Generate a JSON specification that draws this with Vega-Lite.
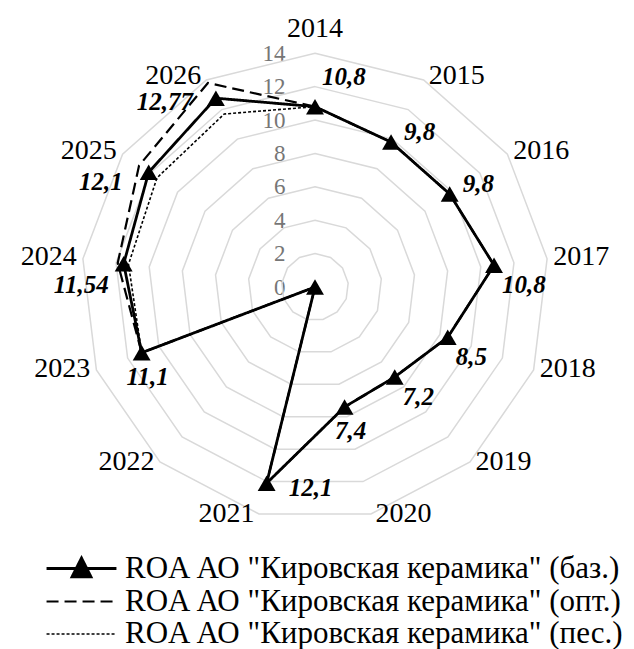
{
  "$schema": "https://vega.github.io/schema/vega-lite/v6.json",
  "width": 634,
  "height": 649,
  "autosize": {"type": "none"},
  "padding": 0,
  "config": {"view": {"stroke": null}, "font": "Liberation Serif"},
  "datasets": {
    "roa": [
      {"year": "2014", "series": "ROA АО \"Кировская керамика\" (баз.)", "value": 10.8},
      {"year": "2015", "series": "ROA АО \"Кировская керамика\" (баз.)", "value": 9.8},
      {"year": "2016", "series": "ROA АО \"Кировская керамика\" (баз.)", "value": 9.8},
      {"year": "2017", "series": "ROA АО \"Кировская керамика\" (баз.)", "value": 10.8},
      {"year": "2018", "series": "ROA АО \"Кировская керамика\" (баз.)", "value": 8.5},
      {"year": "2019", "series": "ROA АО \"Кировская керамика\" (баз.)", "value": 7.2},
      {"year": "2020", "series": "ROA АО \"Кировская керамика\" (баз.)", "value": 7.4},
      {"year": "2021", "series": "ROA АО \"Кировская керамика\" (баз.)", "value": 12.1},
      {"year": "2022", "series": "ROA АО \"Кировская керамика\" (баз.)", "value": 0},
      {"year": "2023", "series": "ROA АО \"Кировская керамика\" (баз.)", "value": 11.1},
      {"year": "2024", "series": "ROA АО \"Кировская керамика\" (баз.)", "value": 11.54},
      {"year": "2025", "series": "ROA АО \"Кировская керамика\" (баз.)", "value": 12.1},
      {"year": "2026", "series": "ROA АО \"Кировская керамика\" (баз.)", "value": 12.77},
      {"year": "2014", "series": "ROA АО \"Кировская керамика\" (опт.)", "value": 10.8},
      {"year": "2015", "series": "ROA АО \"Кировская керамика\" (опт.)", "value": 9.8},
      {"year": "2016", "series": "ROA АО \"Кировская керамика\" (опт.)", "value": 9.8},
      {"year": "2017", "series": "ROA АО \"Кировская керамика\" (опт.)", "value": 10.8},
      {"year": "2018", "series": "ROA АО \"Кировская керамика\" (опт.)", "value": 8.5},
      {"year": "2019", "series": "ROA АО \"Кировская керамика\" (опт.)", "value": 7.2},
      {"year": "2020", "series": "ROA АО \"Кировская керамика\" (опт.)", "value": 7.4},
      {"year": "2021", "series": "ROA АО \"Кировская керамика\" (опт.)", "value": 12.1},
      {"year": "2022", "series": "ROA АО \"Кировская керамика\" (опт.)", "value": 0},
      {"year": "2023", "series": "ROA АО \"Кировская керамика\" (опт.)", "value": 11.1},
      {"year": "2024", "series": "ROA АО \"Кировская керамика\" (опт.)", "value": 11.9},
      {"year": "2025", "series": "ROA АО \"Кировская керамика\" (опт.)", "value": 12.8},
      {"year": "2026", "series": "ROA АО \"Кировская керамика\" (опт.)", "value": 13.8},
      {"year": "2014", "series": "ROA АО \"Кировская керамика\" (пес.)", "value": 10.8},
      {"year": "2015", "series": "ROA АО \"Кировская керамика\" (пес.)", "value": 9.8},
      {"year": "2016", "series": "ROA АО \"Кировская керамика\" (пес.)", "value": 9.8},
      {"year": "2017", "series": "ROA АО \"Кировская керамика\" (пес.)", "value": 10.8},
      {"year": "2018", "series": "ROA АО \"Кировская керамика\" (пес.)", "value": 8.5},
      {"year": "2019", "series": "ROA АО \"Кировская керамика\" (пес.)", "value": 7.2},
      {"year": "2020", "series": "ROA АО \"Кировская керамика\" (пес.)", "value": 7.4},
      {"year": "2021", "series": "ROA АО \"Кировская керамика\" (пес.)", "value": 12.1},
      {"year": "2022", "series": "ROA АО \"Кировская керамика\" (пес.)", "value": 0},
      {"year": "2023", "series": "ROA АО \"Кировская керамика\" (пес.)", "value": 11.1},
      {"year": "2024", "series": "ROA АО \"Кировская керамика\" (пес.)", "value": 11.25},
      {"year": "2025", "series": "ROA АО \"Кировская керамика\" (пес.)", "value": 11.5},
      {"year": "2026", "series": "ROA АО \"Кировская керамика\" (пес.)", "value": 11.7}
    ],
    "grid": [
      {"level": 2, "k": [0,1,2,3,4,5,6,7,8,9,10,11,12]},
      {"level": 4, "k": [0,1,2,3,4,5,6,7,8,9,10,11,12]},
      {"level": 6, "k": [0,1,2,3,4,5,6,7,8,9,10,11,12]},
      {"level": 8, "k": [0,1,2,3,4,5,6,7,8,9,10,11,12]},
      {"level": 10, "k": [0,1,2,3,4,5,6,7,8,9,10,11,12]},
      {"level": 12, "k": [0,1,2,3,4,5,6,7,8,9,10,11,12]},
      {"level": 14, "k": [0,1,2,3,4,5,6,7,8,9,10,11,12]}
    ]
  },
  "encoding": {
    "x": {"field": "px", "type": "quantitative", "scale": {"domain": [-18.862, 19.102], "nice": false, "zero": false}, "axis": null},
    "y": {"field": "py", "type": "quantitative", "scale": {"domain": [-21.677, 17.186], "nice": false, "zero": false},
      "axis": {"values": [0, 2, 4, 6, 8, 10, 12, 14], "format": "d", "domain": false, "ticks": false, "grid": false, "title": null,
        "labelFont": "Liberation Serif", "labelFontSize": 23, "labelColor": "#767676", "labelPadding": 0, "offset": -285}}
  },
  "layer": [
    {
      "data": {"name": "grid"},
      "transform": [
        {"flatten": ["k"]},
        {"calculate": "datum.k * 2 * PI / 13", "as": "th"},
        {"calculate": "datum.level * sin(datum.th)", "as": "px"},
        {"calculate": "datum.level * cos(datum.th)", "as": "py"}
      ],
      "mark": {"type": "line", "interpolate": "linear-closed", "color": "#d9d9d9", "strokeWidth": 1.5},
      "encoding": {"detail": {"field": "level"}, "order": {"field": "k"}}
    },
    {
      "data": {"name": "roa"},
      "transform": [
        {"calculate": "toNumber(datum.year) - 2014", "as": "idx"},
        {"calculate": "datum.idx * 2 * PI / 13", "as": "th"},
        {"calculate": "datum.value * sin(datum.th)", "as": "px"},
        {"calculate": "datum.value * cos(datum.th)", "as": "py"},
        {"calculate": "replace(toString(datum.value), '.', ',')", "as": "lab"},
        {"calculate": "14.13 * sin(datum.th)", "as": "lx"},
        {"calculate": "14.13 * cos(datum.th)", "as": "ly"},
        {"calculate": "indexof(datum.series, 'баз') >= 0", "as": "isBase"}
      ],
      "layer": [
        {
          "mark": {"type": "line", "interpolate": "linear-closed", "color": "black"},
          "encoding": {
            "order": {"field": "idx"},
            "strokeDash": {"field": "series", "type": "nominal",
              "scale": {"domain": ["ROA АО \"Кировская керамика\" (баз.)", "ROA АО \"Кировская керамика\" (опт.)", "ROA АО \"Кировская керамика\" (пес.)"],
                "range": [[1, 0], [12, 6], [3, 2]]},
              "legend": {"title": null, "orient": "none", "legendX": 65, "legendY": 552, "direction": "vertical",
                "labelFont": "Liberation Serif", "labelFontSize": 31, "labelColor": "black", "labelLimit": 0, "labelOffset": 27,
                "symbolSize": 900, "symbolType": "stroke", "symbolStrokeColor": "black", "rowPadding": 1,
                "encode": {"symbols": {"update": {
                  "shape": {"signal": "indexof(datum.value, 'баз') >= 0 ? 'M-2.33,0H2.33M-0.63,0.55L0,-0.7L0.63,0.55Z' : 'M-2.33,0H2.33'"},
                  "fill": {"value": "black"},
                  "stroke": {"value": "black"},
                  "strokeWidth": {"signal": "indexof(datum.value, 'баз') >= 0 ? 3 : 1.6"}
                }}}}},
            "strokeWidth": {"field": "series", "type": "nominal",
              "scale": {"domain": ["ROA АО \"Кировская керамика\" (баз.)", "ROA АО \"Кировская керамика\" (опт.)", "ROA АО \"Кировская керамика\" (пес.)"],
                "range": [2.8, 1.6, 1.3]}, "legend": null}
          }
        },
        {
          "transform": [{"filter": "datum.isBase"}],
          "mark": {"type": "point", "shape": "triangle-up", "filled": true, "color": "black", "size": 320, "opacity": 1}
        },
        {
          "transform": [{"filter": "datum.isBase && sin(datum.th) > 0.01"}],
          "mark": {"type": "text", "fontSize": 28, "align": "left", "baseline": "middle", "dx": 4, "dy": -2, "color": "black"},
          "encoding": {
            "x": {"field": "lx", "type": "quantitative"},
            "y": {"field": "ly", "type": "quantitative", "axis": {"values": [0, 2, 4, 6, 8, 10, 12, 14], "format": "d", "domain": false, "ticks": false, "grid": false, "title": null,
              "labelFont": "Liberation Serif", "labelFontSize": 23, "labelColor": "#767676", "labelPadding": 0, "offset": -285}},
            "text": {"field": "year"}
          }
        },
        {
          "transform": [{"filter": "datum.isBase && sin(datum.th) < -0.01"}],
          "mark": {"type": "text", "fontSize": 28, "align": "right", "baseline": "middle", "dx": -4, "dy": -2, "color": "black"},
          "encoding": {
            "x": {"field": "lx", "type": "quantitative"},
            "y": {"field": "ly", "type": "quantitative", "axis": {"values": [0, 2, 4, 6, 8, 10, 12, 14], "format": "d", "domain": false, "ticks": false, "grid": false, "title": null,
              "labelFont": "Liberation Serif", "labelFontSize": 23, "labelColor": "#767676", "labelPadding": 0, "offset": -285}},
            "text": {"field": "year"}
          }
        },
        {
          "transform": [{"filter": "datum.isBase && abs(sin(datum.th)) <= 0.01"}],
          "mark": {"type": "text", "fontSize": 28, "align": "center", "baseline": "middle", "dy": -22, "color": "black"},
          "encoding": {
            "x": {"field": "lx", "type": "quantitative"},
            "y": {"field": "ly", "type": "quantitative", "axis": {"values": [0, 2, 4, 6, 8, 10, 12, 14], "format": "d", "domain": false, "ticks": false, "grid": false, "title": null,
              "labelFont": "Liberation Serif", "labelFontSize": 23, "labelColor": "#767676", "labelPadding": 0, "offset": -285}},
            "text": {"field": "year"}
          }
        },
        {
          "transform": [{"filter": "datum.isBase && datum.year == '2014'"}],
          "mark": {"type": "text", "fontSize": 25, "fontWeight": "bold", "fontStyle": "italic", "align": "left", "baseline": "middle", "dx": 7, "dy": -30},
          "encoding": {"text": {"field": "lab"}}
        },
        {
          "transform": [{"filter": "datum.isBase && (datum.year == '2015' || datum.year == '2016')"}],
          "mark": {"type": "text", "fontSize": 25, "fontWeight": "bold", "fontStyle": "italic", "align": "left", "baseline": "middle", "dx": 13, "dy": -10},
          "encoding": {"text": {"field": "lab"}}
        },
        {
          "transform": [{"filter": "datum.isBase && (datum.year == '2017' || datum.year == '2018' || datum.year == '2019')"}],
          "mark": {"type": "text", "fontSize": 25, "fontWeight": "bold", "fontStyle": "italic", "align": "left", "baseline": "middle", "dx": 8, "dy": 20},
          "encoding": {"text": {"field": "lab"}}
        },
        {
          "transform": [{"filter": "datum.isBase && (datum.year == '2020' || datum.year == '2023')"}],
          "mark": {"type": "text", "fontSize": 25, "fontWeight": "bold", "fontStyle": "italic", "align": "center", "baseline": "middle", "dx": 6, "dy": 24},
          "encoding": {"text": {"field": "lab"}}
        },
        {
          "transform": [{"filter": "datum.isBase && datum.year == '2021'"}],
          "mark": {"type": "text", "fontSize": 25, "fontWeight": "bold", "fontStyle": "italic", "align": "left", "baseline": "middle", "dx": 22, "dy": 5},
          "encoding": {"text": {"field": "lab"}}
        },
        {
          "transform": [{"filter": "datum.isBase && datum.year == '2024'"}],
          "mark": {"type": "text", "fontSize": 25, "fontWeight": "bold", "fontStyle": "italic", "align": "right", "baseline": "middle", "dx": -15, "dy": 21},
          "encoding": {"text": {"field": "lab"}}
        },
        {
          "transform": [{"filter": "datum.isBase && datum.year == '2025'"}],
          "mark": {"type": "text", "fontSize": 25, "fontWeight": "bold", "fontStyle": "italic", "align": "right", "baseline": "middle", "dx": -26, "dy": 10},
          "encoding": {"text": {"field": "lab"}}
        },
        {
          "transform": [{"filter": "datum.isBase && datum.year == '2026'"}],
          "mark": {"type": "text", "fontSize": 25, "fontWeight": "bold", "fontStyle": "italic", "align": "right", "baseline": "middle", "dx": -23, "dy": 4},
          "encoding": {"text": {"field": "lab"}}
        }
      ]
    }
  ]
}
